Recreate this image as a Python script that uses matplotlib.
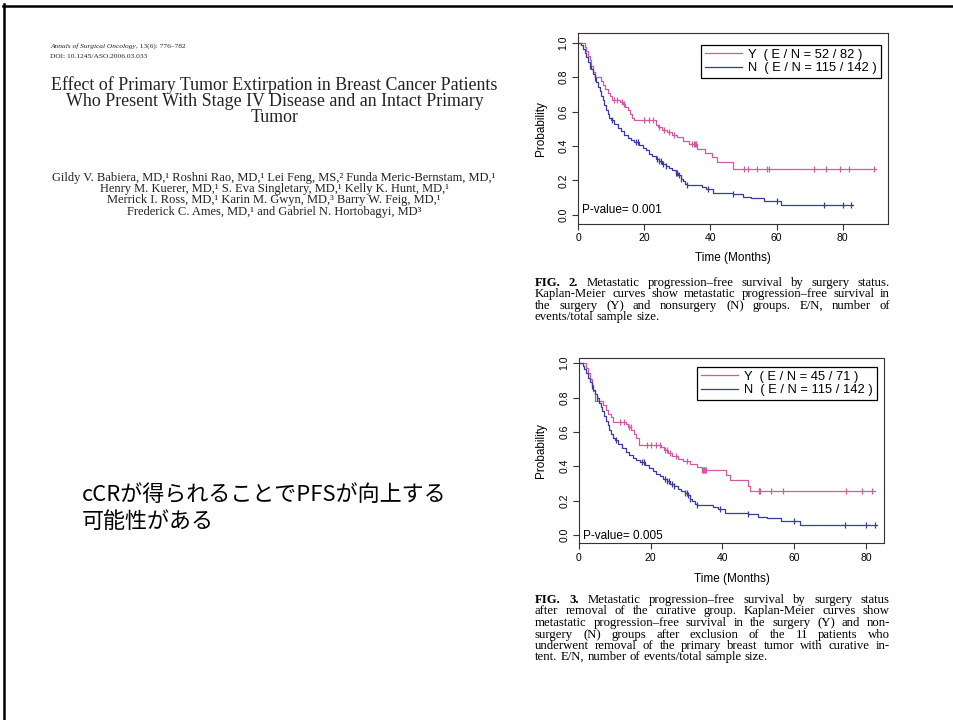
import numpy as np
import matplotlib
matplotlib.use('Agg')
import matplotlib.pyplot as plt
from matplotlib.lines import Line2D

W, H = 954, 720

# ---- data ----
# non-surgery group (N), identical in both figures
n_times = [0, 1.0, 1.5, 2.0, 2.5, 3.0, 3.5, 4.0, 4.5, 5.0, 5.5, 6.0, 6.5, 7.0, 7.5,
           8.0, 8.5, 9.0, 9.5, 10.0, 11.0, 12.0, 13.0, 14.0, 15.0, 16.0, 17.0, 18.5,
           19.5, 20.5, 21.5, 22.5, 23.5, 24.5, 25.5, 26.5, 27.5, 28.5, 29.5, 30.3,
           31.0, 31.6, 32.3, 32.8, 37.5, 38.8, 40.8, 47.0, 49.8, 52.4, 56.3, 61.5]
n_surv = [1.0, 0.986, 0.965, 0.94, 0.915, 0.89, 0.865, 0.845, 0.82, 0.795, 0.77, 0.745,
          0.72, 0.69, 0.665, 0.64, 0.61, 0.585, 0.565, 0.55, 0.53, 0.505, 0.485, 0.463,
          0.448, 0.435, 0.424, 0.408, 0.39, 0.375, 0.356, 0.342, 0.327, 0.312, 0.298,
          0.285, 0.27, 0.258, 0.244, 0.23, 0.21, 0.195, 0.182, 0.172, 0.163, 0.153,
          0.13, 0.12, 0.106, 0.096, 0.08, 0.058]
n_end = 83.0
n_cens = [3.5, 5.0, 10.2, 17.5, 18.0, 24.0, 24.5, 25.0, 25.8, 26.5, 29.5, 30.0, 30.5,
          31.0, 33.0, 39.2, 47.0, 60.0, 74.3, 80.0, 82.6]

# surgery group (Y), Fig. 2
y2_times = [0, 2.0, 2.5, 3.0, 3.5, 4.0, 4.5, 5.0, 7.0, 7.7, 8.3, 9.0, 9.6, 10.3, 12.7,
            13.6, 14.3, 15.0, 15.6, 16.2, 17.0, 23.5, 24.3, 25.3, 27.0, 28.5, 30.0,
            31.6, 33.5, 36.0, 38.5, 40.5, 42.0, 46.9]
y2_surv = [1.0, 0.975, 0.95, 0.925, 0.9, 0.865, 0.83, 0.8, 0.78, 0.755, 0.73, 0.71,
           0.69, 0.67, 0.658, 0.645, 0.628, 0.61, 0.585, 0.565, 0.55, 0.525, 0.51,
           0.495, 0.48, 0.465, 0.45, 0.43, 0.41, 0.38, 0.357, 0.335, 0.31, 0.265]
y2_end = 90.0
y2_cens = [11.0, 11.7, 13.2, 14.0, 19.8, 21.5, 22.8, 24.6, 26.0, 27.5, 29.0, 34.6, 35.0,
           35.4, 35.8, 50.2, 51.3, 54.1, 57.1, 57.7, 71.4, 75.1, 79.1, 81.8, 89.6]

# surgery group (Y), Fig. 3
y3_times = [0, 2.0, 2.5, 3.0, 3.5, 4.0, 4.4, 6.8, 7.5, 8.2, 8.8, 9.6, 13.0, 13.8, 14.6,
            15.3, 16.0, 16.8, 23.0, 23.8, 24.8, 26.0, 27.5, 29.0, 31.0, 33.0, 34.2,
            40.9, 42.2, 47.2, 47.7]
y3_surv = [1.0, 0.97, 0.94, 0.91, 0.875, 0.84, 0.78, 0.755, 0.73, 0.705, 0.685, 0.66,
           0.645, 0.628, 0.61, 0.59, 0.565, 0.525, 0.51, 0.495, 0.478, 0.46, 0.443,
           0.428, 0.414, 0.398, 0.38, 0.35, 0.317, 0.286, 0.256]
y3_end = 82.6
y3_cens = [11.5, 12.5, 14.0, 14.5, 19.0, 20.2, 21.4, 22.5, 24.0, 24.6, 25.5, 27.0, 30.0,
           34.4, 34.6, 34.8, 35.0, 35.2, 35.4, 50.1, 50.3, 50.5, 53.6, 56.8, 74.4, 79.0,
           81.6]

fig2_labels = ['Y  ( E / N = 52 / 82 )', 'N  ( E / N = 115 / 142 )']
fig3_labels = ['Y  ( E / N = 45 / 71 )', 'N  ( E / N = 115 / 142 )']
x_ticks = [0, 20, 40, 60, 80]
y_ticks = [0.0, 0.2, 0.4, 0.6, 0.8, 1.0]

PINK = '#d15ba2'
BLUE = '#3a3c9c'
SANS = 'Liberation Sans'
SERIF = 'Liberation Serif'

fig = plt.figure(figsize=(W / 100, H / 100), dpi=100)
renderer = fig.canvas.get_renderer()


def px_axes(left, top, right, bottom):
    return fig.add_axes([left / W, 1 - bottom / H, (right - left) / W, (bottom - top) / H])


def km(ax, times, surv, end, cens, color, label):
    t = list(times) + [end]
    s = list(surv) + [surv[-1]]
    ax.step(t, s, where='post', color=color, lw=0.9, label=label)
    idx = np.searchsorted(times, cens, side='right') - 1
    ax.plot(cens, np.asarray(surv)[idx], ls='none', marker='|', ms=5, mew=0.9, color=color)


def style(ax, xlim, ylim, pval, leg_anchor, xlab_y, ylab_x):
    ax.set_xlim(*xlim)
    ax.set_ylim(*ylim)
    ax.set_xticks(x_ticks)
    ax.set_yticks(y_ticks)
    ax.set_yticklabels(['%.1f' % v for v in y_ticks])
    for sp in ax.spines.values():
        sp.set_color('#333333')
        sp.set_linewidth(0.8)
    ax.tick_params(length=4, width=0.8, labelsize=7.5, pad=3, color='#333333')
    ax.tick_params(axis='y', labelrotation=90)
    for lbl in ax.get_yticklabels() + ax.get_xticklabels():
        lbl.set_family(SANS)
    for lbl in ax.get_yticklabels():
        lbl.set_va('center')
    ax.set_xlabel('Time (Months)', family=SANS, fontsize=8.5)
    ax.set_ylabel('Probability', family=SANS, fontsize=8.5)
    ax.xaxis.set_label_coords(0.5, xlab_y)
    ax.yaxis.set_label_coords(ylab_x, 0.5)
    ax.text(pval[0], pval[1], pval[2], transform=ax.transAxes, family=SANS,
            fontsize=8.5, va='center', ha='left')
    leg = ax.legend(loc='upper right', bbox_to_anchor=leg_anchor, borderaxespad=0,
                    fancybox=False, edgecolor='black', framealpha=1,
                    prop={'family': SANS, 'size': 9.3}, handlelength=2.9,
                    borderpad=0.3, labelspacing=0.1, handletextpad=0.45)
    leg.get_frame().set_linewidth(0.9)


# Fig. 2
ax1 = px_axes(578, 33.3, 888, 223.5)
km(ax1, y2_times, y2_surv, y2_end, y2_cens, PINK, fig2_labels[0])
km(ax1, n_times, n_surv, n_end, n_cens, BLUE, fig2_labels[1])
style(ax1, (0, 93.7), (-0.05, 1.055), (0.012, 0.071, 'P-value= 0.001'),
      (0.977, 0.938), -0.15, -0.101)

# Fig. 3
ax2 = px_axes(579, 358, 884.5, 543)
km(ax2, y3_times, y3_surv, y3_end, y3_cens, PINK, fig3_labels[0])
km(ax2, n_times, n_surv, n_end, n_cens, BLUE, fig3_labels[1])
style(ax2, (0, 85.2), (-0.047, 1.03), (0.013, 0.039, 'P-value= 0.005'),
      (0.974, 0.951), -0.16, -0.106)


# ---- text helpers (pixel coordinates, y = baseline) ----
def put_line(x0, x1, y, words, size, bold=0, justify=True, family=SERIF, color='black'):
    arts, widths = [], []
    for i, w in enumerate(words):
        t = fig.text(0, 1 - round(y) / H, w, fontsize=size, family=family, va='baseline',
                     weight='bold' if i < bold else 'normal', color=color)
        arts.append(t)
        widths.append(t.get_window_extent(renderer).width)
    if justify and len(arts) > 1:
        gap = (x1 - x0 - sum(widths)) / (len(arts) - 1)
    else:
        gap = size * 100 / 72 * 0.25
    x = x0
    for t, w in zip(arts, widths):
        t.set_x(x / W)
        x += w + gap


def fit_center(xc, y, s, width, family=SERIF, color='#222222', **kw):
    t = fig.text(xc / W, 1 - y / H, s, fontsize=10, family=family, ha='center',
                 va='baseline', color=color, **kw)
    w = t.get_window_extent(renderer).width
    t.set_fontsize(10 * width / w)
    return 10 * width / w


def caption(lines, x0, x1, y0, step, size):
    for i, ln in enumerate(lines):
        words = ln.split(' ')
        put_line(x0, x1, y0 + i * step, words, size, bold=2 if i == 0 else 0,
                 justify=(i < len(lines) - 1))


fig2_caption = [
    'FIG. 2. Metastatic progression\u2013free survival by surgery status.',
    'Kaplan-Meier curves show metastatic progression\u2013free survival in',
    'the surgery (Y) and nonsurgery (N) groups. E/N, number of',
    'events/total sample size.',
]
fig3_caption = [
    'FIG. 3. Metastatic progression\u2013free survival by surgery status',
    'after removal of the curative group. Kaplan-Meier curves show',
    'metastatic progression\u2013free survival in the surgery (Y) and non-',
    'surgery (N) groups after exclusion of the 11 patients who',
    'underwent removal of the primary breast tumor with curative in-',
    'tent. E/N, number of events/total sample size.',
]
caption(fig2_caption, 535, 890, 286, 11.4, 9.2)
caption(fig3_caption, 535, 890, 603, 11.5, 9.2)

# paper header
t1 = fig.text(50 / W, 1 - 48 / H, 'Annals of Surgical Oncology', fontsize=5.3,
              family=SERIF, style='italic', va='baseline', color='#222222')
w1 = t1.get_window_extent(renderer).width
fig.text((50 + w1) / W, 1 - 48 / H, ', 13(6): 776\u2013782', fontsize=5.3,
         family=SERIF, va='baseline', color='#222222')
fig.text(50 / W, 1 - 58 / H, 'DOI: 10.1245/ASO.2006.03.033', fontsize=5.4,
         family=SERIF, va='baseline', color='#222222')

title_lines = ['Effect of Primary Tumor Extirpation in Breast Cancer Patients',
               'Who Present With Stage IV Disease and an Intact Primary',
               'Tumor']
sz = fit_center(274.5, 90.5, title_lines[0], 447)
for i, s in enumerate(title_lines[1:]):
    fig.text(274.5 / W, 1 - (106 + 15.5 * i) / H, s, fontsize=sz, family=SERIF,
             ha='center', va='baseline', color='#222222')

author_lines = [
    'Gildy V. Babiera, MD,\u00b9 Roshni Rao, MD,\u00b9 Lei Feng, MS,\u00b2 Funda Meric-Bernstam, MD,\u00b9',
    'Henry M. Kuerer, MD,\u00b9 S. Eva Singletary, MD,\u00b9 Kelly K. Hunt, MD,\u00b9',
    'Merrick I. Ross, MD,\u00b9 Karin M. Gwyn, MD,\u00b3 Barry W. Feig, MD,\u00b9',
    'Frederick C. Ames, MD,\u00b9 and Gabriel N. Hortobagyi, MD\u00b3',
]
sz = fit_center(274, 180.5, author_lines[0], 445)
for i, s in enumerate(author_lines[1:]):
    fig.text(274 / W, 1 - (192 + 11.5 * i) / H, s, fontsize=sz, family=SERIF,
             ha='center', va='baseline', color='#222222')

# Japanese note
jp = fig.text(82 / W, 1 - 495 / H, 'cCRが得られることでPFSが向上する', fontsize=14,
              family=['Noto Sans CJK JP', 'DejaVu Sans'], va='center')
jw = jp.get_window_extent(renderer).width
jsz = 14 * 366 / jw
jp.set_fontsize(jsz)
fig.text(82 / W, 1 - 522 / H, '可能性がある', fontsize=jsz,
         family=['Noto Sans CJK JP', 'DejaVu Sans'], va='center')

# slide border (top and left edges)
fig.add_artist(Line2D([3 / W, 1], [1 - 5.5 / H, 1 - 5.5 / H], color='black', lw=1.8))
fig.add_artist(Line2D([4.5 / W, 4.5 / W], [0, 1 - 4 / H], color='black', lw=1.8))

fig.savefig('out.png', dpi=100)
